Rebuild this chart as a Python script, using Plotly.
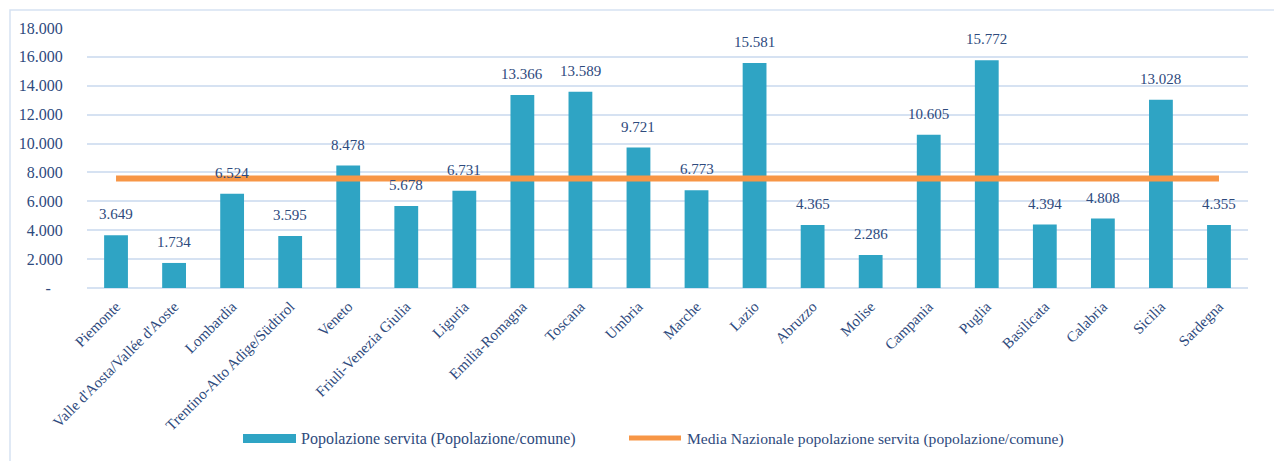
import plotly.graph_objects as go

regions = ["Piemonte", "Valle d'Aosta/Vallée d'Aoste", "Lombardia", "Trentino-Alto Adige/Südtirol",
           "Veneto", "Friuli-Venezia Giulia", "Liguria", "Emilia-Romagna", "Toscana", "Umbria",
           "Marche", "Lazio", "Abruzzo", "Molise", "Campania", "Puglia", "Basilicata", "Calabria",
           "Sicilia", "Sardegna"]
popolazione_servita = [3649, 1734, 6524, 3595, 8478, 5678, 6731, 13366, 13589, 9721,
                       6773, 15581, 4365, 2286, 10605, 15772, 4394, 4808, 13028, 4355]
media_nazionale = 7580
y_ticks = [0, 2000, 4000, 6000, 8000, 10000, 12000, 14000, 16000, 18000]
y_ticktext = ["-\u00a0\u00a0\u00a0", "2.000", "4.000", "6.000", "8.000", "10.000",
              "12.000", "14.000", "16.000", "18.000"]
legend_bar = "Popolazione servita (Popolazione/comune)"
legend_line = "Media Nazionale popolazione servita (popolazione/comune)"
title_text = "nazionale"

def fmt(v):
    return f"{v:,}".replace(",", ".")

TXT = "#2E4A7D"
FONT = "Liberation Serif"
BAR = "#2FA4C4"
ORANGE = "#F79646"
GRID = "#D6E2F2"

# layout geometry (pixels)
W, H = 1274, 461
ML, MR, MT, MB = 87, 26, 28, 173
PW, PH = W - ML - MR, H - MT - MB

def px(x):
    return (x - ML) / PW

def py(y):
    return (H - MB - y) / PH

fig = go.Figure()
fig.add_trace(go.Bar(x=regions, y=popolazione_servita, marker=dict(color=BAR, line=dict(width=0)),
                     showlegend=False, hoverinfo="x+y", name=legend_bar))
fig.add_trace(go.Scatter(x=regions, y=[media_nazionale] * len(regions), mode="lines",
                         line=dict(color=ORANGE, width=6), showlegend=False, name=legend_line))

for r, v in zip(regions, popolazione_servita):
    fig.add_annotation(x=r, y=v, text=fmt(v), showarrow=False, yanchor="middle", yshift=21,
                       font=dict(family=FONT, size=15, color=TXT))

# partially visible title at top edge
fig.add_annotation(xref="paper", yref="paper", x=px(6), y=py(6), xanchor="left", yanchor="bottom",
                   text="<b>" + title_text + "</b>", showarrow=False,
                   font=dict(family=FONT, size=25, color="#000000"))

# outer frame
fig.add_shape(type="rect", xref="paper", yref="paper", x0=px(10), x1=px(1290), y0=py(480), y1=py(10),
              line=dict(color=GRID, width=1.5), layer="below")

# manual legend
fig.add_shape(type="rect", xref="paper", yref="paper", x0=px(243), x1=px(296), y0=py(443), y1=py(434),
              line=dict(width=0), fillcolor=BAR)
fig.add_annotation(xref="paper", yref="paper", x=px(299), y=py(439), xanchor="left", yanchor="middle",
                   text=legend_bar, showarrow=False, font=dict(family=FONT, size=16, color=TXT))
fig.add_shape(type="line", xref="paper", yref="paper", x0=px(629), x1=px(681), y0=py(438), y1=py(438),
              line=dict(color=ORANGE, width=5))
fig.add_annotation(xref="paper", yref="paper", x=px(685), y=py(439), xanchor="left", yanchor="middle",
                   text=legend_line, showarrow=False, font=dict(family=FONT, size=15.6, color=TXT))

fig.update_layout(
    width=W, height=H,
    margin=dict(l=ML, r=MR, t=MT, b=MB, autoexpand=False),
    paper_bgcolor="white", plot_bgcolor="white",
    bargap=0.59,
    font=dict(family=FONT, color=TXT),
    showlegend=False,
    xaxis=dict(tickangle=-45, tickfont=dict(family=FONT, size=15, color=TXT), showgrid=False,
               showline=False, ticks="outside", ticklen=3, tickcolor="rgba(0,0,0,0)",
               range=[-0.5, 19.5], automargin=False),
    yaxis=dict(range=[0, 18000], tickvals=y_ticks, ticktext=y_ticktext,
               tickfont=dict(family=FONT, size=16, color=TXT), showgrid=True, gridcolor=GRID,
               gridwidth=1.5, zeroline=True, zerolinecolor=GRID, zerolinewidth=2,
               ticks="outside", ticklen=20, tickcolor="rgba(0,0,0,0)", showline=False,
               automargin=False),
)

fig.write_html("out.html", config={"displayModeBar": False},
               post_script="document.body.style.margin='0';")
